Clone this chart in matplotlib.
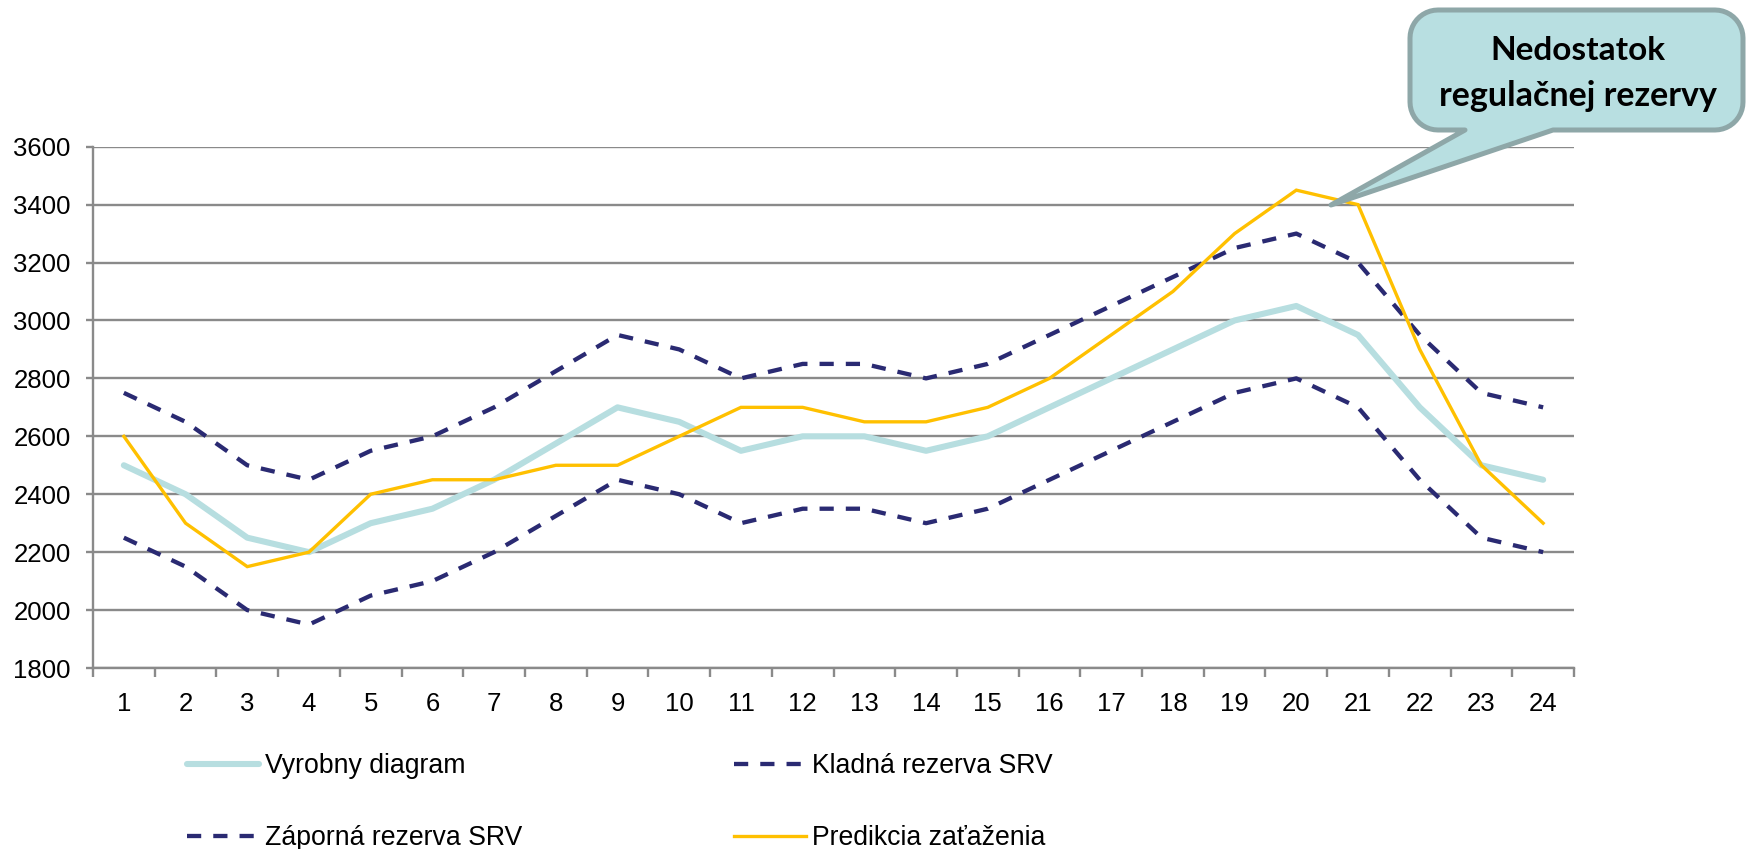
import numpy as np
import matplotlib
matplotlib.use("Agg")
import matplotlib.pyplot as plt
from matplotlib.path import Path
from matplotlib.patches import PathPatch
from matplotlib.ticker import FixedLocator, NullFormatter

plt.rcParams['font.family'] = ['Liberation Sans', 'DejaVu Sans']

hours = list(range(1, 25))
vyrobny = [2500, 2400, 2250, 2200, 2300, 2350, 2450, 2575, 2700, 2650, 2550, 2600,
           2600, 2550, 2600, 2700, 2800, 2900, 3000, 3050, 2950, 2700, 2500, 2450]
kladna = [2750, 2650, 2500, 2450, 2550, 2600, 2700, 2825, 2950, 2900, 2800, 2850,
          2850, 2800, 2850, 2950, 3050, 3150, 3250, 3300, 3200, 2950, 2750, 2700]
zaporna = [2250, 2150, 2000, 1950, 2050, 2100, 2200, 2325, 2450, 2400, 2300, 2350,
           2350, 2300, 2350, 2450, 2550, 2650, 2750, 2800, 2700, 2450, 2250, 2200]
predikcia = [2600, 2300, 2150, 2200, 2400, 2450, 2450, 2500, 2500, 2600, 2700, 2700,
             2650, 2650, 2700, 2800, 2950, 3100, 3300, 3450, 3400, 2900, 2500, 2300]
y_ticks = list(range(1800, 3601, 200))

W, H = 1746, 849
fig = plt.figure(figsize=(W / 100, H / 100), dpi=100)
ax = fig.add_axes([93 / W, 1 - 668 / H, (1574 - 93) / W, (668 - 146.7) / H])

grid_c = '#8a8a8a'
navy = '#2a2a72'

l_vyr, = ax.plot(hours, vyrobny, color='#b7dee0', lw=4.4, solid_capstyle='round',
                 solid_joinstyle='round', label='Vyrobny diagram', zorder=3)
l_kla, = ax.plot(hours, kladna, color=navy, lw=3.1, dashes=(3.3, 2.8),
                 dash_capstyle='butt', label='Kladná rezerva SRV', zorder=4)
l_zap, = ax.plot(hours, zaporna, color=navy, lw=3.1, dashes=(3.3, 2.8),
                 dash_capstyle='butt', label='Záporná rezerva SRV', zorder=4)
l_pre, = ax.plot(hours, predikcia, color='#ffc000', lw=2.4, solid_joinstyle='miter',
                 label='Predikcia zaťaženia', zorder=5)

ax.set_xlim(0.5, 24.5)
ax.set_ylim(1800, 3600)
ax.set_yticks(y_ticks)
ax.yaxis.grid(True, color=grid_c, lw=1.7)
ax.set_axisbelow(True)

ax.xaxis.set_major_locator(FixedLocator(np.arange(0.5, 25, 1)))
ax.xaxis.set_major_formatter(NullFormatter())
ax.xaxis.set_minor_locator(FixedLocator(hours))
ax.set_xticklabels([str(h) for h in hours], minor=True)
ax.tick_params(axis='x', which='major', length=6.5, width=1.7, color=grid_c, direction='out')
ax.tick_params(axis='x', which='minor', length=0, pad=17, labelsize=18.5)
ax.tick_params(axis='y', length=5, width=1.7, color=grid_c, direction='out', pad=11,
               labelsize=18.5)

for s in ['top', 'right']:
    ax.spines[s].set_visible(False)
for s in ['left', 'bottom']:
    ax.spines[s].set_color(grid_c)
    ax.spines[s].set_linewidth(1.7)

# legend: column 1 = Vyrobny, Zaporna ; column 2 = Kladna, Predikcia
fs = 19.2
fs_px = fs * 100 / 72
fig.legend([l_vyr, l_zap, l_kla, l_pre],
           [l_vyr.get_label(), l_zap.get_label(), l_kla.get_label(), l_pre.get_label()],
           ncol=2, loc='upper left', bbox_to_anchor=(187 / W, 1 - 753 / H),
           frameon=False, fontsize=fs, borderpad=0, borderaxespad=0,
           handlelength=72 / fs_px, handletextpad=6 / fs_px,
           columnspacing=212 / fs_px, labelspacing=1.74)

# callout bubble (pixel coords, y from top)
L, R, T, B, r = 1410, 1743, 10, 130, 28
base_l, base_r, tip = 1465, 1553, (1331, 205)


def arc(cx, cy, a0, a1, n=12):
    t = np.radians(np.linspace(a0, a1, n))
    return [(cx + r * np.cos(a), cy + r * np.sin(a)) for a in t]


pts = [(L + r, T), (R - r, T)]
pts += arc(R - r, T + r, -90, 0)
pts += [(R, B - r)]
pts += arc(R - r, B - r, 0, 90)
pts += [(base_r, B), tip, (base_l, B), (L + r, B)]
pts += arc(L + r, B - r, 90, 180)
pts += [(L, T + r)]
pts += arc(L + r, T + r, 180, 270)
pts = [(x / W, 1 - y / H) for x, y in pts]
codes = [Path.MOVETO] + [Path.LINETO] * (len(pts) - 2) + [Path.CLOSEPOLY]
bubble = PathPatch(Path(pts, codes), transform=fig.transFigure, facecolor='#b8dfe1',
                   edgecolor='#8ea7a8', lw=3.6, joinstyle='round', zorder=10)
fig.patches.append(bubble)
fig.text(1578 / W, 1 - 51 / H, 'Nedostatok', ha='center', va='center',
         fontsize=24, fontweight='bold', family=['Lato', 'DejaVu Sans'], zorder=11)
fig.text(1578 / W, 1 - 96 / H, 'regulačnej rezervy', ha='center', va='center',
         fontsize=24.5, fontweight='bold', family=['Lato', 'DejaVu Sans'], zorder=11)

fig.savefig('out.png', dpi=100)
